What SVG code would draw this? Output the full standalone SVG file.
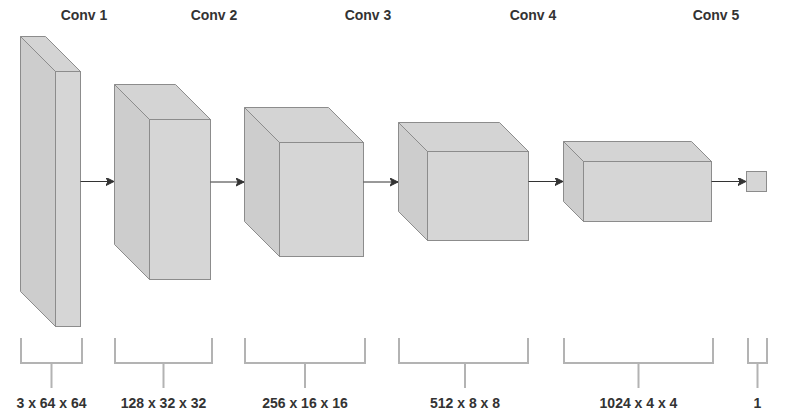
<svg xmlns="http://www.w3.org/2000/svg" width="788" height="419" viewBox="0 0 788 419">
<style>
.front{fill:#d6d6d6;stroke:#8c8c8c;stroke-width:1}
.side{fill:#cdcdcd;stroke:#8c8c8c;stroke-width:1;stroke-linejoin:round}
.top{fill:#d4d4d4;stroke:#8c8c8c;stroke-width:1;stroke-linejoin:round}
.lbl{font-family:"Liberation Sans",Arial,sans-serif;font-size:14px;font-weight:bold;fill:#333333;text-anchor:middle}
.edge{stroke:#333333;stroke-width:1;fill:none}
.br{stroke:#b3b3b3;stroke-width:2;fill:none}
</style>
<defs>
<marker id="arr" markerUnits="userSpaceOnUse" markerWidth="10" markerHeight="10" refX="8" refY="4" orient="auto">
<path d="M0,0 L8,4 L0,8 L2,4 z" fill="#333333" stroke="#333333" stroke-width="1" stroke-linejoin="miter"/>
</marker>
</defs>
<rect width="788" height="419" fill="#ffffff"/>

<g id="cube1">
<polygon class="side" points="20.5,36.5 55.5,71.5 55.5,326.5 20.5,291.5"/>
<polygon class="top" points="20.5,36.5 45.5,36.5 80.5,71.5 55.5,71.5"/>
<rect class="front" x="55.5" y="71.5" width="25" height="255"/>
</g>
<g id="cube2">
<polygon class="side" points="114.5,84.5 149.5,119.5 149.5,279.5 114.5,244.5"/>
<polygon class="top" points="114.5,84.5 175.5,84.5 210.5,119.5 149.5,119.5"/>
<rect class="front" x="149.5" y="119.5" width="61" height="160"/>
</g>
<g id="cube3">
<polygon class="side" points="244.5,107.5 279.5,142.5 279.5,256.5 244.5,221.5"/>
<polygon class="top" points="244.5,107.5 328.5,107.5 363.5,142.5 279.5,142.5"/>
<rect class="front" x="279.5" y="142.5" width="84" height="114"/>
</g>
<g id="cube4">
<polygon class="side" points="398.5,122.5 427.5,151.5 427.5,240.5 398.5,211.5"/>
<polygon class="top" points="398.5,122.5 499.5,122.5 528.5,151.5 427.5,151.5"/>
<rect class="front" x="427.5" y="151.5" width="101" height="89"/>
</g>
<g id="cube5">
<polygon class="side" points="563.5,141.5 583.5,161.5 583.5,221.5 563.5,201.5"/>
<polygon class="top" points="563.5,141.5 691.5,141.5 711.5,161.5 583.5,161.5"/>
<rect class="front" x="583.5" y="161.5" width="128" height="60"/>
</g>
<g id="output">
<rect class="front" x="746.5" y="171.5" width="20" height="20"/>
</g>

<g id="connectors">
<line class="edge" x1="80.5" y1="181.5" x2="114" y2="181.5" marker-end="url(#arr)"/>
<line class="edge" x1="210.5" y1="182" x2="244" y2="182" marker-end="url(#arr)"/>
<line class="edge" x1="363.5" y1="182" x2="398" y2="182" marker-end="url(#arr)"/>
<line class="edge" x1="528.5" y1="181.5" x2="563" y2="181.5" marker-end="url(#arr)"/>
<line class="edge" x1="711.5" y1="181.5" x2="746" y2="181.5" marker-end="url(#arr)"/>
</g>

<g id="titles">
<text class="lbl" x="84" y="20">Conv 1</text>
<text class="lbl" x="214" y="20">Conv 2</text>
<text class="lbl" x="368" y="20">Conv 3</text>
<text class="lbl" x="533" y="20">Conv 4</text>
<text class="lbl" x="716" y="20">Conv 5</text>
</g>

<g id="bracket1">
<path class="br" d="M21,338 V363 H82 V338 M51.5,363 V388"/>
<text class="lbl" x="51.5" y="408">3 x 64 x 64</text>
</g>
<g id="bracket2">
<path class="br" d="M115,338 V363 H212 V338 M163.5,363 V388"/>
<text class="lbl" x="163.5" y="408">128 x 32 x 32</text>
</g>
<g id="bracket3">
<path class="br" d="M245,338 V363 H365 V338 M305,363 V388"/>
<text class="lbl" x="305" y="408">256 x 16 x 16</text>
</g>
<g id="bracket4">
<path class="br" d="M399,338 V363 H528 V338 M465,363 V388"/>
<text class="lbl" x="465" y="408">512 x 8 x 8</text>
</g>
<g id="bracket5">
<path class="br" d="M564,338 V363 H713 V338 M638.5,363 V388"/>
<text class="lbl" x="638.5" y="408">1024 x 4 x 4</text>
</g>
<g id="bracket6">
<path class="br" d="M748,338 V363 H767 V338 M757.5,363 V388"/>
<text class="lbl" x="757.5" y="408">1</text>
</g>
</svg>
